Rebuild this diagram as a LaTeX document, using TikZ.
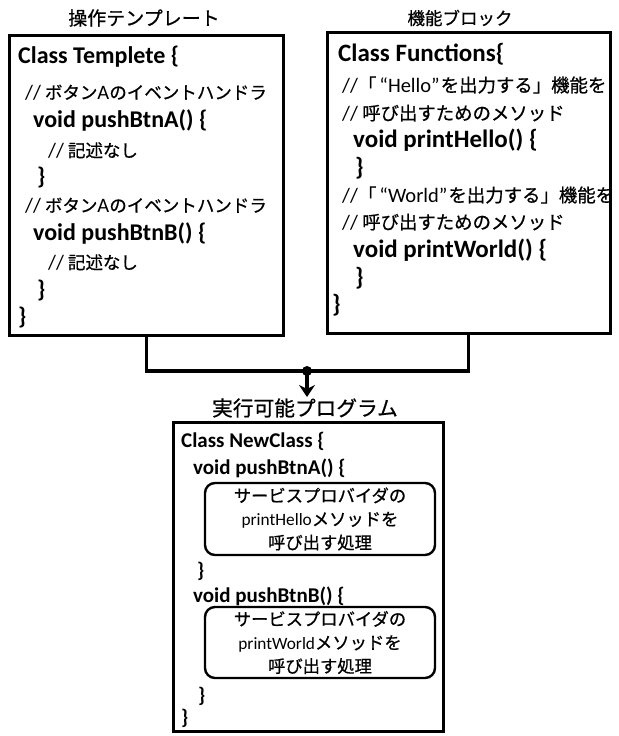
\documentclass[tikz,border=0pt]{standalone}
\usepackage{fontspec}
\setmainfont{Carlito}
\newfontfamily\jpfont[FakeBold=0.7]{Noto Sans CJK JP}
\usetikzlibrary{arrows.meta}
\newcommand\jt[1]{{\jpfont #1}}
\newcommand\lat[1]{{\fontsize{20.5bp}{22bp}\selectfont #1}}
\tikzset{
  frame/.style={draw, line width=3bp, inner sep=0pt},
  subbox/.style={draw, line width=2.4bp, rounded corners=10bp, inner sep=0pt, align=center,
    minimum width=230bp, font=\fontsize{17.3bp}{23.5bp}\selectfont},
  codeA/.style={anchor=base west, inner sep=0pt, font=\fontsize{24bp}{27bp}\selectfont\bfseries},
  codeR/.style={anchor=base west, inner sep=0pt, font=\fontsize{25bp}{27bp}\selectfont\bfseries},
  cmtA/.style={anchor=base west, inner sep=0pt, font=\fontsize{17.5bp}{22bp}\selectfont},
  cmtR/.style={anchor=base west, inner sep=0pt, font=\fontsize{18.4bp}{22bp}\selectfont},
  codeB/.style={anchor=base west, inner sep=0pt, font=\fontsize{21bp}{24bp}\selectfont\bfseries},
  ttl/.style={inner sep=0pt, font=\fontsize{19bp}{22bp}\selectfont\jpfont},
  wire/.style={line width=3.2bp},
}
\begin{document}
\begin{tikzpicture}[x=1bp,y=-1bp]
\useasboundingbox (0,0) rectangle (619,736);
% titles
\node[ttl] (t1) at (144,18) {操作テンプレート};
\node[ttl, font=\fontsize{17.5bp}{22bp}\selectfont\jpfont] (t2) at (460,18) {機能ブロック};
\node[ttl, font=\fontsize{20.7bp}{22bp}\selectfont\jpfont] (t3) at (305,408) {実行可能プログラム};
% frames
\node[frame, minimum width=273bp, minimum height=299bp] (lbox) at (146.5,185.5) {};
\node[frame, minimum width=283bp, minimum height=300bp] (rbox) at (468.5,183) {};
\node[frame, minimum width=270bp, minimum height=309bp] (bbox) at (308,576.5) {};
% left box text
\node[codeA] (a1) at (18,64) {Class Templete \{};
\node[cmtA] (a2) at (25,99) {\lat{//} \jt{ボタン}\lat{A}\jt{のイベントハンドラ}};
\node[codeA] (a3) at (33,127) {void pushBtnA() \{};
\node[cmtA] (a4) at (48,157) {\lat{//} \jt{記述なし}};
\node[codeA] (a5) at (37,184) {\}};
\node[cmtA] (a6) at (25,212) {\lat{//} \jt{ボタン}\lat{A}\jt{のイベントハンドラ}};
\node[codeA] (a7) at (33,240) {void pushBtnB() \{};
\node[cmtA] (a8) at (48,269) {\lat{//} \jt{記述なし}};
\node[codeA] (a9) at (37,297) {\}};
\node[codeA] (a10) at (18,324) {\}};
% right box text
\node[codeR] (b1) at (338,62) {Class Functions\{};
\node[cmtR] (b2) at (342,92) {\lat{//}\jt{「}\hspace{3bp}\lat{“Hello”}\hspace{1bp}\jt{を出力する」機能を}};
\node[cmtR] (b3) at (342,120) {\lat{//} \jt{呼び出すためのメソッド}};
\node[codeR] (b4) at (353,147) {void printHello() \{};
\node[codeR] (b5) at (355,175) {\}};
\node[cmtR] (b6) at (342,202) {\lat{//}\jt{「}\hspace{3bp}\lat{“World”}\hspace{1bp}\jt{を出力する」機能を}};
\node[cmtR] (b7) at (342,229) {\lat{//} \jt{呼び出すためのメソッド}};
\node[codeR] (b8) at (353,257) {void printWorld() \{};
\node[codeR] (b9) at (355,285) {\}};
\node[codeR] (b10) at (332,312) {\}};
% bottom box text
\node[codeB] (c1) at (181,447) {Class NewClass \{};
\node[codeB] (c2) at (193,474) {void pushBtnA() \{};
\node[subbox, minimum height=72bp] (s1) at (320,519) {\jt{サービスプロバイダの}\\printHello\jt{メソッドを}\\\jt{呼び出す処理}};
\node[codeB] (c3) at (197,577) {\}};
\node[codeB] (c4) at (193,602) {void pushBtnB() \{};
\node[subbox, minimum height=71bp] (s2) at (320,642.5) {\jt{サービスプロバイダの}\\printWorld\jt{メソッドを}\\\jt{呼び出す処理}};
\node[codeB] (c5) at (198,702) {\}};
\node[codeB] (c6) at (181,724) {\}};
% connectors
\coordinate (dot) at (307,371);
\coordinate (tip) at (307,397);
\draw[wire] (lbox.south) |- (dot) -| (rbox.south);
\fill (dot) circle (5bp);
\draw[wire, -{Stealth[length=12bp,width=16bp,inset=4bp]}] (dot) -- (tip);
\end{tikzpicture}
\end{document}
